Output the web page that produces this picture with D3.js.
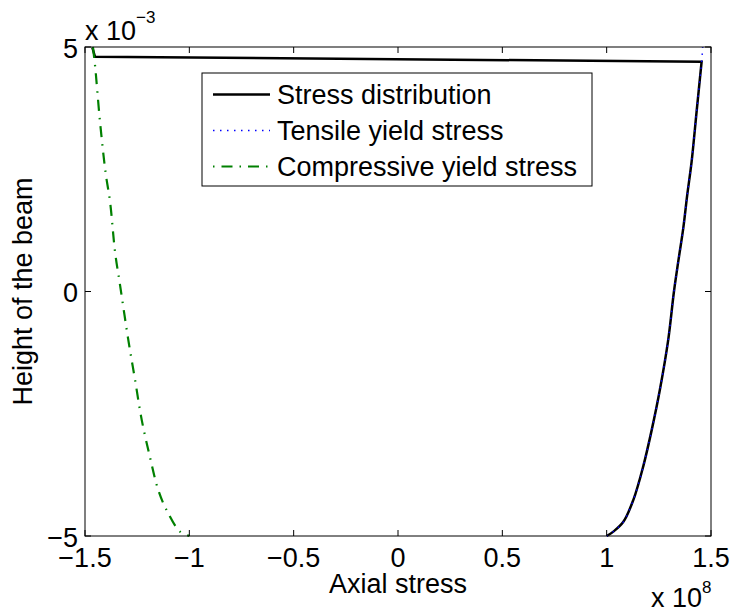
<!DOCTYPE html>
<html>
<head>
<meta charset="utf-8">
<script src="https://cdn.jsdelivr.net/npm/d3@7"></script>
<style>
  html, body { margin: 0; padding: 0; background: #fff; }
  svg { display: block; font-family: "Liberation Sans", Arial, Helvetica, sans-serif; }
</style>
</head>
<body>
<svg id="chart" width="730" height="615"></svg>
<script>
// ---- Data (x in units of 1e8, y in units of 1e-3) ----
const xTicks = [-1.5, -1, -0.5, 0, 0.5, 1, 1.5];
const yTicks = [-5, 0, 5];
const xLabel = "Axial stress";
const yLabel = "Height of the beam";
const seriesNames = ["Stress distribution", "Tensile yield stress", "Compressive yield stress"];

// Tensile yield stress (bottom to top)
const tensileX = [1.0, 1.032, 1.080, 1.128, 1.175, 1.216, 1.255, 1.295, 1.3225, 1.343, 1.367, 1.386, 1.407, 1.431, 1.455, 1.460];
const tensileY = [-5.0, -4.91, -4.71, -4.26, -3.58, -2.83, -2.01, -0.99, 0.0, 0.61, 1.29, 1.97, 2.65, 3.68, 4.70, 5.0];

// Compressive yield stress (top to bottom)
const compX = [-1.462, -1.452, -1.428, -1.401, -1.380, -1.356, -1.332, -1.2925, -1.260, -1.228, -1.189, -1.149, -1.109, -1.045, -1.0];
const compY = [5.0, 4.63, 3.47, 2.42, 1.84, 0.81, 0.13, -0.99, -1.81, -2.63, -3.38, -4.06, -4.47, -4.91, -5.0];

// Stress distribution: top flat part, then follows the tensile curve down
const stressTopX = [-1.465, -1.452, 1.455];
const stressTopY = [4.99, 4.80, 4.70];
const stressCurveX = [1.455, 1.431, 1.407, 1.386, 1.367, 1.343, 1.3225, 1.295, 1.255, 1.216, 1.175, 1.128, 1.080, 1.032, 1.0];
const stressCurveY = [4.70, 3.68, 2.65, 1.97, 1.29, 0.61, 0.0, -0.99, -2.01, -2.83, -3.58, -4.26, -4.71, -4.91, -5.0];

// ---- Layout ----
const svg = d3.select("#chart");
const L = 85, R = 711, T = 47, B = 536;
const FS = 27;

const x = d3.scaleLinear().domain([-1.5, 1.5]).range([L, R]);
const y = d3.scaleLinear().domain([-5, 5]).range([B, T]);

const fmt = v => d3.format("")(v).replace("-", "\u2212");
const zip = (xs, ys) => xs.map((v, i) => [v, ys[i]]);

svg.append("rect").attr("x", L).attr("y", T).attr("width", R - L).attr("height", B - T)
  .attr("fill", "#fff");

const lineLin = d3.line().x(d => x(d[0])).y(d => y(d[1])).curve(d3.curveLinear);
const lineSmooth = d3.line().x(d => x(d[0])).y(d => y(d[1])).curve(d3.curveCatmullRom.alpha(0.5));

// Stress distribution (black)
const dTop = lineLin(zip(stressTopX, stressTopY));
const dCurve = lineSmooth(zip(stressCurveX, stressCurveY)).replace(/^M/, "L");
svg.append("path").attr("d", dTop + dCurve)
  .attr("fill", "none").attr("stroke", "#000").attr("stroke-width", 2.5)
  .attr("stroke-linejoin", "miter");

// Tensile (blue dotted)
svg.append("path").attr("d", lineSmooth(zip(tensileX, tensileY)))
  .attr("fill", "none").attr("stroke", "#0000ff").attr("stroke-width", 1.5)
  .attr("stroke-dasharray", "1.5,5.5");

// Compressive (green dash-dot)
svg.append("path").attr("d", lineSmooth(zip(compX, compY)))
  .attr("fill", "none").attr("stroke", "#008000").attr("stroke-width", 2.2)
  .attr("stroke-dasharray", "11,7,1.5,7");

// Axes frame
svg.append("rect").attr("x", L).attr("y", T).attr("width", R - L).attr("height", B - T)
  .attr("fill", "none").attr("stroke", "#000").attr("stroke-width", 1);

// Ticks (inside, on all four sides)
const TL = 6;
const gx = svg.append("g");
xTicks.forEach(v => {
  gx.append("line").attr("x1", x(v)).attr("x2", x(v)).attr("y1", B).attr("y2", B - TL).attr("stroke", "#000");
  gx.append("line").attr("x1", x(v)).attr("x2", x(v)).attr("y1", T).attr("y2", T + TL).attr("stroke", "#000");
  gx.append("text").attr("x", x(v)).attr("y", 567).attr("text-anchor", "middle")
    .attr("font-size", FS).attr("fill", "#000").text(fmt(v));
});
const gy = svg.append("g");
yTicks.forEach(v => {
  gy.append("line").attr("x1", L).attr("x2", L + TL).attr("y1", y(v)).attr("y2", y(v)).attr("stroke", "#000");
  gy.append("line").attr("x1", R).attr("x2", R - TL).attr("y1", y(v)).attr("y2", y(v)).attr("stroke", "#000");
  gy.append("text").attr("x", 78).attr("y", y(v) + 10.5).attr("text-anchor", "end")
    .attr("font-size", FS).attr("fill", "#000").text(fmt(v));
});

// Exponent labels
const ex1 = svg.append("text").attr("x", 85).attr("y", 39.5).attr("font-size", FS).attr("fill", "#000");
ex1.append("tspan").text("x 10");
ex1.append("tspan").attr("dy", -16.5).attr("font-size", 17).text("\u22123");

const ex2 = svg.append("text").attr("x", 651).attr("y", 606.5).attr("font-size", FS).attr("fill", "#000");
ex2.append("tspan").text("x 10");
ex2.append("tspan").attr("dy", -14).attr("font-size", 17).text("8");

// Axis labels
svg.append("text").attr("x", (L + R) / 2).attr("y", 593).attr("text-anchor", "middle")
  .attr("font-size", FS).attr("fill", "#000").text(xLabel);
svg.append("text").attr("transform", `translate(32,${(T + B) / 2}) rotate(-90)`)
  .attr("text-anchor", "middle").attr("font-size", FS).attr("fill", "#000").text(yLabel);

// Legend
const lg = svg.append("g");
lg.append("rect").attr("x", 202).attr("y", 73).attr("width", 390).attr("height", 113)
  .attr("fill", "#fff").attr("stroke", "#000").attr("stroke-width", 1);
const legendStyles = [
  { stroke: "#000", width: 2.5, dash: null },
  { stroke: "#0000ff", width: 1.5, dash: "1.5,5.5" },
  { stroke: "#008000", width: 2.2, dash: "1.5,7,11,7" }
];
const rowY = [94.5, 130.5, 166.5];
seriesNames.forEach((name, i) => {
  const s = legendStyles[i];
  const ln = lg.append("line").attr("x1", 213).attr("x2", 270).attr("y1", rowY[i]).attr("y2", rowY[i])
    .attr("stroke", s.stroke).attr("stroke-width", s.width);
  if (s.dash) ln.attr("stroke-dasharray", s.dash);
  lg.append("text").attr("x", 277).attr("y", rowY[i] + 9.5).attr("font-size", FS)
    .attr("fill", "#000").text(name);
});
</script>
</body>
</html>
